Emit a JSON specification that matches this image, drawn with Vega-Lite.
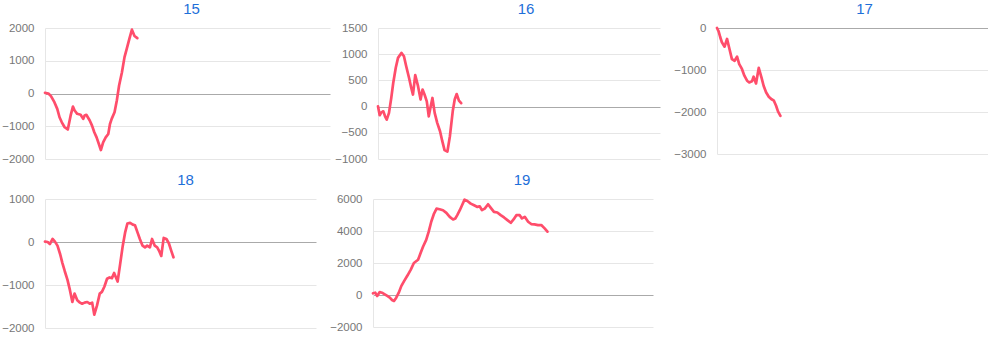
{
  "$schema": "https://vega.github.io/schema/vega-lite/v6.json",
  "padding": {"left": 0, "top": 2, "right": 0, "bottom": 0},
  "background": "#ffffff",
  "config": {
    "view": {"stroke": null},
    "title": {"font": "Liberation Sans", "fontSize": 15, "fontWeight": "normal", "color": "#1e6fd9", "anchor": "middle", "offset": 5},
    "axis": {
      "labelFont": "Liberation Sans", "labelFontSize": 11.5, "labelColor": "#777777", "format": "d",
      "ticks": false, "labelPadding": 11, "domainColor": "#e6e6e6",
      "gridColor": {"condition": {"test": "datum.value === 0", "value": "#aaaaaa"}, "value": "#e6e6e6"},
      "title": null
    },
    "line": {"color": "#ff4d6b", "strokeWidth": 2.7, "strokeJoin": "round", "strokeCap": "round"}
  },
  "datasets": {
    "d": [
      {"p":15,"x":0,"v":20},{"p":15,"x":1.2,"v":0},{"p":15,"x":2.1,"v":-80},{"p":15,"x":3.3,"v":-265},{"p":15,"x":4.3,"v":-470},{"p":15,"x":5.1,"v":-725},{"p":15,"x":5.9,"v":-880},{"p":15,"x":6.9,"v":-1030},{"p":15,"x":8.0,"v":-1100},{"p":15,"x":9.0,"v":-670},{"p":15,"x":9.8,"v":-400},{"p":15,"x":10.4,"v":-520},{"p":15,"x":11.3,"v":-620},{"p":15,"x":12.5,"v":-650},{"p":15,"x":13.4,"v":-775},{"p":15,"x":13.9,"v":-670},{"p":15,"x":14.5,"v":-650},{"p":15,"x":15.7,"v":-825},{"p":15,"x":16.5,"v":-980},{"p":15,"x":17.3,"v":-1185},{"p":15,"x":18.1,"v":-1340},{"p":15,"x":18.9,"v":-1540},{"p":15,"x":19.6,"v":-1725},{"p":15,"x":20.4,"v":-1490},{"p":15,"x":21.3,"v":-1340},{"p":15,"x":22.2,"v":-1235},{"p":15,"x":22.8,"v":-930},{"p":15,"x":23.4,"v":-775},{"p":15,"x":24.4,"v":-570},{"p":15,"x":25.2,"v":-215},{"p":15,"x":26.0,"v":245},{"p":15,"x":27.0,"v":650},{"p":15,"x":27.9,"v":1110},{"p":15,"x":28.7,"v":1370},{"p":15,"x":29.6,"v":1670},{"p":15,"x":30.5,"v":1950},{"p":15,"x":31.4,"v":1755},{"p":15,"x":32.4,"v":1690},
      {"p":16,"x":0,"v":5},{"p":16,"x":0.6,"v":-165},{"p":16,"x":1.2,"v":-110},{"p":16,"x":1.9,"v":-90},{"p":16,"x":2.5,"v":-185},{"p":16,"x":3.1,"v":-250},{"p":16,"x":3.9,"v":-120},{"p":16,"x":4.7,"v":165},{"p":16,"x":5.4,"v":450},{"p":16,"x":6.3,"v":740},{"p":16,"x":7.1,"v":930},{"p":16,"x":8.3,"v":1025},{"p":16,"x":9.2,"v":960},{"p":16,"x":10.0,"v":770},{"p":16,"x":11.0,"v":550},{"p":16,"x":11.8,"v":355},{"p":16,"x":12.4,"v":230},{"p":16,"x":13.2,"v":600},{"p":16,"x":14.2,"v":390},{"p":16,"x":15.1,"v":135},{"p":16,"x":15.8,"v":325},{"p":16,"x":16.5,"v":230},{"p":16,"x":17.3,"v":100},{"p":16,"x":18.0,"v":-185},{"p":16,"x":18.7,"v":5},{"p":16,"x":19.3,"v":165},{"p":16,"x":20.1,"v":-120},{"p":16,"x":21.0,"v":-310},{"p":16,"x":22.0,"v":-470},{"p":16,"x":22.8,"v":-660},{"p":16,"x":23.6,"v":-830},{"p":16,"x":24.6,"v":-860},{"p":16,"x":25.5,"v":-565},{"p":16,"x":26.5,"v":-90},{"p":16,"x":27.2,"v":135},{"p":16,"x":27.9,"v":240},{"p":16,"x":28.7,"v":115},{"p":16,"x":29.5,"v":65},
      {"p":17,"x":0,"v":0},{"p":17,"x":0.6,"v":-80},{"p":17,"x":1.2,"v":-220},{"p":17,"x":1.8,"v":-340},{"p":17,"x":2.8,"v":-445},{"p":17,"x":3.7,"v":-260},{"p":17,"x":4.6,"v":-500},{"p":17,"x":5.5,"v":-740},{"p":17,"x":6.5,"v":-780},{"p":17,"x":7.4,"v":-680},{"p":17,"x":8.2,"v":-860},{"p":17,"x":9.2,"v":-975},{"p":17,"x":10.1,"v":-1135},{"p":17,"x":11.1,"v":-1255},{"p":17,"x":11.9,"v":-1295},{"p":17,"x":12.9,"v":-1270},{"p":17,"x":13.5,"v":-1160},{"p":17,"x":14.4,"v":-1320},{"p":17,"x":15.4,"v":-950},{"p":17,"x":16.4,"v":-1175},{"p":17,"x":17.2,"v":-1375},{"p":17,"x":18.1,"v":-1530},{"p":17,"x":19.1,"v":-1635},{"p":17,"x":20.0,"v":-1690},{"p":17,"x":21.0,"v":-1730},{"p":17,"x":21.8,"v":-1850},{"p":17,"x":22.5,"v":-1985},{"p":17,"x":23.4,"v":-2090},
      {"p":18,"x":0,"v":10},{"p":18,"x":1.0,"v":0},{"p":18,"x":1.8,"v":-50},{"p":18,"x":2.8,"v":70},{"p":18,"x":3.6,"v":15},{"p":18,"x":4.6,"v":-85},{"p":18,"x":5.6,"v":-285},{"p":18,"x":6.4,"v":-485},{"p":18,"x":7.3,"v":-680},{"p":18,"x":8.3,"v":-880},{"p":18,"x":9.2,"v":-1120},{"p":18,"x":10.1,"v":-1395},{"p":18,"x":10.9,"v":-1200},{"p":18,"x":11.9,"v":-1355},{"p":18,"x":12.9,"v":-1410},{"p":18,"x":13.7,"v":-1435},{"p":18,"x":14.6,"v":-1410},{"p":18,"x":15.6,"v":-1395},{"p":18,"x":16.5,"v":-1435},{"p":18,"x":17.4,"v":-1410},{"p":18,"x":18.2,"v":-1690},{"p":18,"x":19.2,"v":-1475},{"p":18,"x":20.2,"v":-1200},{"p":18,"x":21.0,"v":-1160},{"p":18,"x":21.9,"v":-1040},{"p":18,"x":22.9,"v":-855},{"p":18,"x":23.8,"v":-825},{"p":18,"x":24.7,"v":-840},{"p":18,"x":25.5,"v":-720},{"p":18,"x":26.8,"v":-920},{"p":18,"x":27.7,"v":-525},{"p":18,"x":28.7,"v":-85},{"p":18,"x":29.6,"v":230},{"p":18,"x":30.4,"v":430},{"p":18,"x":31.4,"v":445},{"p":18,"x":32.4,"v":405},{"p":18,"x":33.2,"v":390},{"p":18,"x":34.1,"v":230},{"p":18,"x":35.0,"v":70},{"p":18,"x":36.0,"v":-85},{"p":18,"x":36.9,"v":-125},{"p":18,"x":37.7,"v":-85},{"p":18,"x":38.7,"v":-125},{"p":18,"x":39.5,"v":70},{"p":18,"x":40.5,"v":-85},{"p":18,"x":41.4,"v":-125},{"p":18,"x":42.1,"v":-205},{"p":18,"x":42.9,"v":-325},{"p":18,"x":43.8,"v":95},{"p":18,"x":44.8,"v":70},{"p":18,"x":45.7,"v":-30},{"p":18,"x":46.6,"v":-205},{"p":18,"x":47.4,"v":-355},
      {"p":19,"x":0,"v":105},{"p":19,"x":0.8,"v":145},{"p":19,"x":1.5,"v":-60},{"p":19,"x":2.4,"v":185},{"p":19,"x":3.2,"v":145},{"p":19,"x":4.2,"v":40},{"p":19,"x":5.1,"v":-60},{"p":19,"x":6.0,"v":-165},{"p":19,"x":6.8,"v":-310},{"p":19,"x":7.5,"v":-370},{"p":19,"x":8.3,"v":-165},{"p":19,"x":9.2,"v":145},{"p":19,"x":10.1,"v":555},{"p":19,"x":11.1,"v":865},{"p":19,"x":12.3,"v":1215},{"p":19,"x":13.5,"v":1590},{"p":19,"x":14.6,"v":2000},{"p":19,"x":16.1,"v":2205},{"p":19,"x":17.0,"v":2620},{"p":19,"x":17.9,"v":3030},{"p":19,"x":19.0,"v":3445},{"p":19,"x":19.9,"v":3960},{"p":19,"x":20.8,"v":4580},{"p":19,"x":21.8,"v":5090},{"p":19,"x":22.7,"v":5400},{"p":19,"x":23.8,"v":5360},{"p":19,"x":25.0,"v":5300},{"p":19,"x":26.2,"v":5135},{"p":19,"x":27.4,"v":4885},{"p":19,"x":28.6,"v":4720},{"p":19,"x":29.4,"v":4785},{"p":19,"x":30.1,"v":4990},{"p":19,"x":31.0,"v":5300},{"p":19,"x":31.8,"v":5610},{"p":19,"x":32.7,"v":5960},{"p":19,"x":33.7,"v":5875},{"p":19,"x":34.9,"v":5710},{"p":19,"x":36.1,"v":5610},{"p":19,"x":37.3,"v":5505},{"p":19,"x":38.1,"v":5545},{"p":19,"x":38.9,"v":5300},{"p":19,"x":39.9,"v":5400},{"p":19,"x":41.1,"v":5670},{"p":19,"x":42.0,"v":5465},{"p":19,"x":43.2,"v":5195},{"p":19,"x":44.4,"v":5155},{"p":19,"x":45.6,"v":4990},{"p":19,"x":46.8,"v":4845},{"p":19,"x":48.0,"v":4680},{"p":19,"x":49.2,"v":4515},{"p":19,"x":50.2,"v":4720},{"p":19,"x":51.2,"v":4990},{"p":19,"x":52.4,"v":4990},{"p":19,"x":53.2,"v":4785},{"p":19,"x":54.2,"v":4885},{"p":19,"x":55.4,"v":4580},{"p":19,"x":56.5,"v":4435},{"p":19,"x":57.7,"v":4410},{"p":19,"x":58.9,"v":4370},{"p":19,"x":60.1,"v":4370},{"p":19,"x":61.3,"v":4165},{"p":19,"x":62.3,"v":3960}
    ]
  },
  "spacing": 8,
  "vconcat": [
    {
      "spacing": 0,
      "hconcat": [
        {
          "width": 285, "height": 131,
          "title": {"text": "15", "dx": 4},
          "data": {"name": "d"},
          "transform": [{"filter": "datum.p == 15"}],
          "mark": {"type": "line"},
          "encoding": {
            "x": {"field": "x", "type": "quantitative", "scale": {"domain": [0, 100]}, "axis": null},
            "y": {"field": "v", "type": "quantitative", "scale": {"domain": [-2000, 2000], "nice": false, "zero": false}, "axis": {"values": [-2000, -1000, 0, 1000, 2000], "minExtent": 45, "maxExtent": 45}}
          }
        },
        {
          "width": 282, "height": 131,
          "title": {"text": "16", "dx": 7},
          "data": {"name": "d"},
          "transform": [{"filter": "datum.p == 16"}],
          "mark": {"type": "line"},
          "encoding": {
            "x": {"field": "x", "type": "quantitative", "scale": {"domain": [0, 100]}, "axis": null},
            "y": {"field": "v", "type": "quantitative", "scale": {"domain": [-1000, 1500], "nice": false, "zero": false}, "axis": {"values": [-1000, -500, 0, 500, 1000, 1500], "minExtent": 48, "maxExtent": 48}}
          }
        },
        {
          "width": 271, "height": 126,
          "title": {"text": "17", "dx": 12},
          "data": {"name": "d"},
          "transform": [{"filter": "datum.p == 17"}],
          "mark": {"type": "line"},
          "encoding": {
            "x": {"field": "x", "type": "quantitative", "scale": {"domain": [0, 100]}, "axis": null},
            "y": {"field": "v", "type": "quantitative", "scale": {"domain": [-3000, 0], "nice": false, "zero": false}, "axis": {"values": [-3000, -2000, -1000, 0], "minExtent": 57, "maxExtent": 57}}
          }
        }
      ]
    },
    {
      "spacing": 0,
      "hconcat": [
        {
          "width": 271, "height": 129,
          "title": {"text": "18", "dx": 5},
          "data": {"name": "d"},
          "transform": [{"filter": "datum.p == 18"}],
          "mark": {"type": "line"},
          "encoding": {
            "x": {"field": "x", "type": "quantitative", "scale": {"domain": [0, 100]}, "axis": null},
            "y": {"field": "v", "type": "quantitative", "scale": {"domain": [-2000, 1000], "nice": false, "zero": false}, "axis": {"values": [-2000, -1000, 0, 1000], "minExtent": 45, "maxExtent": 45}}
          }
        },
        {
          "width": 280, "height": 128,
          "title": {"text": "19", "dx": 9},
          "data": {"name": "d"},
          "transform": [{"filter": "datum.p == 19"}],
          "mark": {"type": "line"},
          "encoding": {
            "x": {"field": "x", "type": "quantitative", "scale": {"domain": [0, 100]}, "axis": null},
            "y": {"field": "v", "type": "quantitative", "scale": {"domain": [-2000, 6000], "nice": false, "zero": false}, "axis": {"values": [-2000, 0, 2000, 4000, 6000], "minExtent": 57, "maxExtent": 57}}
          }
        }
      ]
    }
  ]
}
